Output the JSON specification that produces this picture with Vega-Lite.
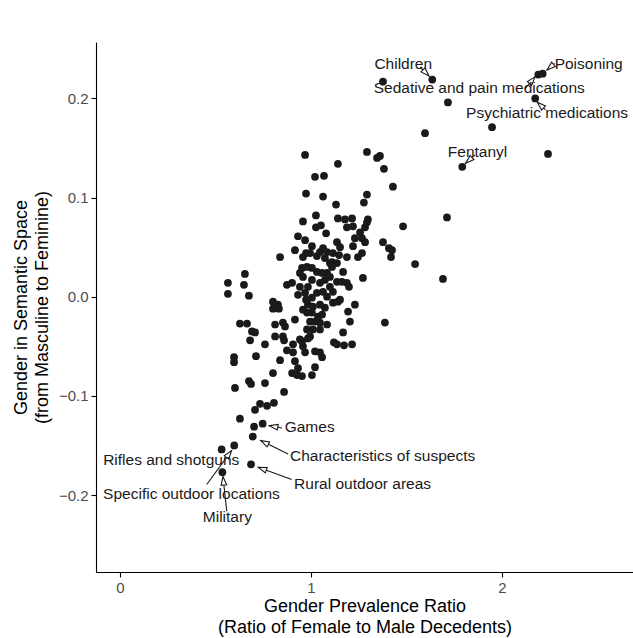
{
  "$schema": "https://vega.github.io/schema/vega-lite/v6.json",
  "width": 537,
  "height": 530,
  "autosize": {"type": "none"},
  "padding": {"left": 96, "top": 42, "right": 0, "bottom": 66},
  "background": "white",
  "config": {
    "view": {"stroke": null},
    "font": "Liberation Sans",
    "axis": {
      "grid": false,
      "domainColor": "black",
      "domainWidth": 1.1,
      "tickColor": "black",
      "tickWidth": 1.1,
      "tickSize": 5,
      "labelFont": "Liberation Sans",
      "labelFontSize": 15,
      "labelColor": "#4d4d4d",
      "labelPadding": 3,
      "titleFont": "Liberation Sans",
      "titleFontSize": 18,
      "titleFontWeight": "normal",
      "titleColor": "black",
      "titleLineHeight": 21
    }
  },
  "datasets": {
    "points": [
      {"x": 1.377, "y": 0.217}, {"x": 1.635, "y": 0.219}, {"x": 2.190, "y": 0.224}, {"x": 2.213, "y": 0.225},
      {"x": 1.717, "y": 0.196}, {"x": 2.174, "y": 0.200}, {"x": 1.597, "y": 0.165}, {"x": 1.948, "y": 0.171},
      {"x": 2.241, "y": 0.144}, {"x": 1.792, "y": 0.131}, {"x": 1.712, "y": 0.080}, {"x": 1.691, "y": 0.018},
      {"x": 1.482, "y": 0.071}, {"x": 1.545, "y": 0.033}, {"x": 1.387, "y": -0.026},
      {"x": 0.969, "y": 0.143}, {"x": 1.141, "y": 0.134}, {"x": 1.293, "y": 0.146}, {"x": 1.346, "y": 0.140},
      {"x": 1.361, "y": 0.142}, {"x": 1.382, "y": 0.129}, {"x": 1.021, "y": 0.121}, {"x": 1.068, "y": 0.122},
      {"x": 1.429, "y": 0.111}, {"x": 0.974, "y": 0.104}, {"x": 1.063, "y": 0.101}, {"x": 1.131, "y": 0.093},
      {"x": 1.293, "y": 0.103}, {"x": 1.277, "y": 0.095},
      {"x": 0.958, "y": 0.076}, {"x": 1.026, "y": 0.082}, {"x": 1.026, "y": 0.070}, {"x": 1.052, "y": 0.072},
      {"x": 1.079, "y": 0.064}, {"x": 1.141, "y": 0.079}, {"x": 1.178, "y": 0.078}, {"x": 1.215, "y": 0.079},
      {"x": 1.298, "y": 0.078}, {"x": 1.188, "y": 0.070}, {"x": 1.220, "y": 0.071}, {"x": 1.257, "y": 0.065},
      {"x": 1.283, "y": 0.070}, {"x": 1.293, "y": 0.075}, {"x": 1.230, "y": 0.059}, {"x": 1.267, "y": 0.059},
      {"x": 1.377, "y": 0.055}, {"x": 1.408, "y": 0.049}, {"x": 1.424, "y": 0.047}, {"x": 1.419, "y": 0.040},
      {"x": 1.283, "y": 0.055}, {"x": 1.136, "y": 0.055}, {"x": 1.152, "y": 0.050}, {"x": 1.220, "y": 0.051},
      {"x": 0.969, "y": 0.057}, {"x": 1.005, "y": 0.051}, {"x": 1.063, "y": 0.049}, {"x": 1.084, "y": 0.045},
      {"x": 0.974, "y": 0.044}, {"x": 1.115, "y": 0.044}, {"x": 1.147, "y": 0.042}, {"x": 1.267, "y": 0.044},
      {"x": 1.188, "y": 0.040}, {"x": 1.246, "y": 0.040}, {"x": 1.031, "y": 0.041}, {"x": 0.932, "y": 0.061},
      {"x": 0.916, "y": 0.047}, {"x": 0.838, "y": 0.040}, {"x": 1.047, "y": 0.045}, {"x": 1.073, "y": 0.039},
      {"x": 1.110, "y": 0.035}, {"x": 0.958, "y": 0.040}, {"x": 0.995, "y": 0.044},
      {"x": 0.953, "y": 0.029}, {"x": 0.979, "y": 0.030}, {"x": 1.005, "y": 0.029}, {"x": 0.942, "y": 0.024},
      {"x": 1.031, "y": 0.025}, {"x": 1.058, "y": 0.024}, {"x": 1.084, "y": 0.024}, {"x": 1.110, "y": 0.030},
      {"x": 1.136, "y": 0.034}, {"x": 1.168, "y": 0.025}, {"x": 1.188, "y": 0.014}, {"x": 1.199, "y": 0.010},
      {"x": 1.272, "y": 0.019}, {"x": 0.874, "y": 0.012}, {"x": 0.901, "y": 0.014}, {"x": 0.942, "y": 0.010},
      {"x": 0.984, "y": 0.010}, {"x": 1.005, "y": 0.017}, {"x": 1.047, "y": 0.014}, {"x": 1.073, "y": 0.017},
      {"x": 1.099, "y": 0.020}, {"x": 1.136, "y": 0.015}, {"x": 0.932, "y": 0.002}, {"x": 0.969, "y": 0.004},
      {"x": 1.005, "y": -0.001}, {"x": 1.031, "y": 0.004}, {"x": 1.063, "y": 0.005}, {"x": 1.084, "y": 0.000},
      {"x": 1.162, "y": 0.015}, {"x": 1.099, "y": 0.034}, {"x": 0.654, "y": 0.023}, {"x": 0.565, "y": 0.014},
      {"x": 0.649, "y": 0.012}, {"x": 0.565, "y": 0.003}, {"x": 0.675, "y": 0.001}, {"x": 0.958, "y": 0.020},
      {"x": 1.099, "y": 0.010}, {"x": 1.115, "y": 0.005},
      {"x": 1.115, "y": -0.006}, {"x": 1.141, "y": -0.005}, {"x": 0.984, "y": -0.008}, {"x": 1.010, "y": -0.010},
      {"x": 1.047, "y": -0.008}, {"x": 1.073, "y": -0.011}, {"x": 1.230, "y": -0.008}, {"x": 1.194, "y": -0.015},
      {"x": 0.979, "y": -0.016}, {"x": 1.005, "y": -0.016}, {"x": 1.037, "y": -0.020}, {"x": 1.058, "y": -0.018},
      {"x": 1.204, "y": -0.025}, {"x": 0.995, "y": -0.025}, {"x": 1.021, "y": -0.025}, {"x": 1.047, "y": -0.026},
      {"x": 1.084, "y": -0.028}, {"x": 1.168, "y": -0.036}, {"x": 1.010, "y": -0.033}, {"x": 1.047, "y": -0.033},
      {"x": 0.995, "y": -0.040}, {"x": 0.801, "y": -0.005}, {"x": 0.827, "y": -0.008}, {"x": 0.801, "y": -0.012},
      {"x": 0.832, "y": -0.012}, {"x": 0.916, "y": -0.023}, {"x": 0.628, "y": -0.027}, {"x": 0.665, "y": -0.027},
      {"x": 0.812, "y": -0.028}, {"x": 0.853, "y": -0.026}, {"x": 0.864, "y": -0.030}, {"x": 0.691, "y": -0.035},
      {"x": 0.707, "y": -0.036}, {"x": 0.812, "y": -0.040}, {"x": 0.853, "y": -0.040}, {"x": 0.974, "y": -0.003},
      {"x": 0.958, "y": -0.013}, {"x": 0.979, "y": -0.033}, {"x": 0.942, "y": -0.043}, {"x": 1.152, "y": -0.003},
      {"x": 0.681, "y": -0.044}, {"x": 0.759, "y": -0.048}, {"x": 0.859, "y": -0.044}, {"x": 0.906, "y": -0.048},
      {"x": 0.953, "y": -0.045}, {"x": 0.958, "y": -0.050}, {"x": 0.984, "y": -0.042}, {"x": 1.120, "y": -0.046},
      {"x": 1.136, "y": -0.048}, {"x": 1.173, "y": -0.049}, {"x": 1.215, "y": -0.048}, {"x": 0.969, "y": -0.056},
      {"x": 1.021, "y": -0.055}, {"x": 1.047, "y": -0.056}, {"x": 1.058, "y": -0.061}, {"x": 1.021, "y": -0.071},
      {"x": 0.597, "y": -0.061}, {"x": 0.597, "y": -0.066}, {"x": 0.712, "y": -0.060}, {"x": 0.838, "y": -0.064},
      {"x": 0.874, "y": -0.054}, {"x": 0.906, "y": -0.056}, {"x": 0.916, "y": -0.065}, {"x": 0.932, "y": -0.072},
      {"x": 0.901, "y": -0.077}, {"x": 0.927, "y": -0.079}, {"x": 0.953, "y": -0.080}, {"x": 1.005, "y": -0.079},
      {"x": 0.801, "y": -0.077},
      {"x": 0.602, "y": -0.092}, {"x": 0.675, "y": -0.085}, {"x": 0.686, "y": -0.088}, {"x": 0.759, "y": -0.087},
      {"x": 0.859, "y": -0.096}, {"x": 0.733, "y": -0.108}, {"x": 0.770, "y": -0.110}, {"x": 0.806, "y": -0.107},
      {"x": 0.707, "y": -0.114}, {"x": 0.628, "y": -0.123}, {"x": 0.702, "y": -0.131}, {"x": 0.747, "y": -0.128},
      {"x": 0.695, "y": -0.141}, {"x": 0.686, "y": -0.169}, {"x": 0.532, "y": -0.154}, {"x": 0.598, "y": -0.150},
      {"x": 0.536, "y": -0.177}
    ],
    "notes": [
      {"label": "Children", "lx": 1.483, "ly": 0.2348},
      {"label": "Poisoning", "lx": 2.454, "ly": 0.2348},
      {"label": "Sedative and pain medications", "lx": 1.881, "ly": 0.2109},
      {"label": "Psychiatric medications", "lx": 2.236, "ly": 0.1851},
      {"label": "Fentanyl", "lx": 1.872, "ly": 0.1458},
      {"label": "Games", "lx": 0.993, "ly": -0.1317},
      {"label": "Characteristics of suspects", "lx": 1.375, "ly": -0.1609},
      {"label": "Rural outdoor areas", "lx": 1.270, "ly": -0.1884},
      {"label": "Rifles and shotguns", "lx": 0.268, "ly": -0.1649},
      {"label": "Specific outdoor locations", "lx": 0.374, "ly": -0.1985},
      {"label": "Military", "lx": 0.562, "ly": -0.2220}
    ],
    "arrows": [
      {"label": "Children", "sx": 1.571, "sy": 0.2317, "tx": 1.618, "ty": 0.2227},
      {"label": "Poisoning", "sx": 2.275, "sy": 0.2353, "tx": 2.236, "ty": 0.2287},
      {"label": "Sedative and pain medications", "sx": 2.120, "sy": 0.2096, "tx": 2.173, "ty": 0.2217},
      {"label": "Psychiatric medications", "sx": 2.228, "sy": 0.1884, "tx": 2.185, "ty": 0.1962},
      {"label": "Fentanyl", "sx": 1.859, "sy": 0.1431, "tx": 1.810, "ty": 0.1347},
      {"label": "Games", "sx": 0.848, "sy": -0.1323, "tx": 0.782, "ty": -0.1300},
      {"label": "Characteristics of suspects", "sx": 0.880, "sy": -0.1587, "tx": 0.737, "ty": -0.1451},
      {"label": "Rural outdoor areas", "sx": 0.899, "sy": -0.1844, "tx": 0.724, "ty": -0.1720},
      {"label": "Specific outdoor locations", "sx": 0.454, "sy": -0.1894, "tx": 0.584, "ty": -0.1552},
      {"label": "Military", "sx": 0.559, "sy": -0.2163, "tx": 0.539, "ty": -0.1814}
    ]
  },
  "layer": [
    {
      "data": {"name": "points"},
      "mark": {"type": "circle", "size": 60, "opacity": 1, "color": "#1a1a1a"},
      "encoding": {
        "x": {
          "field": "x",
          "type": "quantitative",
          "scale": {"domain": [-0.1257, 2.686], "nice": false, "zero": false},
          "axis": {
            "values": [0, 1, 2],
            "format": "d",
            "title": ["Gender Prevalence Ratio", "(Ratio of Female to Male Decedents)"],
            "titlePadding": 2
          }
        },
        "y": {
          "field": "y",
          "type": "quantitative",
          "scale": {"domain": [-0.2776, 0.2569], "nice": false, "zero": false},
          "axis": {
            "values": [-0.2, -0.1, 0, 0.1, 0.2],
            "format": ".1f",
            "title": ["Gender in Semantic Space", "(from Masculine to Feminine)"],
            "titlePadding": 7
          }
        }
      }
    },
    {
      "data": {"name": "arrows"},
      "mark": {"type": "rule", "color": "#1a1a1a", "strokeWidth": 1.1},
      "encoding": {
        "x": {"field": "sx", "type": "quantitative"},
        "y": {"field": "sy", "type": "quantitative"},
        "x2": {"field": "tx"},
        "y2": {"field": "ty"}
      }
    },
    {
      "data": {"name": "arrows"},
      "transform": [
        {"calculate": "atan2((datum.tx - datum.sx) * 191, (datum.ty - datum.sy) * 992) * 180 / PI", "as": "angle"}
      ],
      "mark": {
        "type": "point",
        "shape": "M0,0L-0.33,1L0.33,1Z",
        "size": 290,
        "filled": true,
        "fill": "white",
        "stroke": "#1a1a1a",
        "strokeWidth": 1.1,
        "opacity": 1
      },
      "encoding": {
        "x": {"field": "tx", "type": "quantitative"},
        "y": {"field": "ty", "type": "quantitative"},
        "angle": {"field": "angle", "type": "quantitative", "scale": null}
      }
    },
    {
      "data": {"name": "notes"},
      "mark": {
        "type": "text",
        "font": "Liberation Sans",
        "fontSize": 15.5,
        "color": "#1a1a1a",
        "align": "center",
        "baseline": "middle"
      },
      "encoding": {
        "x": {"field": "lx", "type": "quantitative"},
        "y": {"field": "ly", "type": "quantitative"},
        "text": {"field": "label"}
      }
    }
  ]
}
